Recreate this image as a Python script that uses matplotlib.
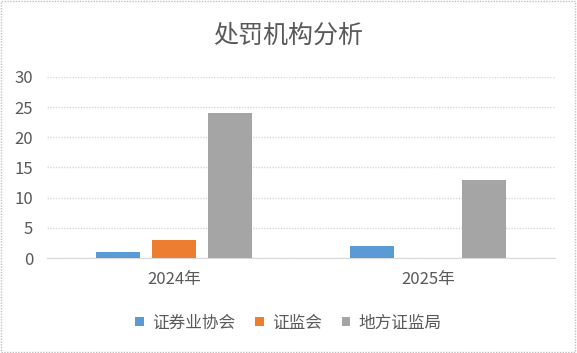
import numpy as np
import matplotlib.pyplot as plt
from matplotlib.patches import Rectangle

plt.rcParams['font.family'] = ['Noto Sans CJK SC', 'DejaVu Sans']

# data
years = ['2024年', '2025年']
series_names = ['证券业协会', '证监会', '地方证监局']
xiehui = [1, 2]
zjh = [3, 0]
difang = [24, 13]
colors = ['#5B9BD5', '#ED7D31', '#A5A5A5']

fig = plt.figure(figsize=(5.77, 3.53), dpi=100)
ax = fig.add_axes([0.0815, 0.269, 0.8805, 0.513])

x = np.arange(len(years))
w = 0.173
offs = [-0.22, 0, 0.22]
for vals, off, col, name in zip([xiehui, zjh, difang], offs, colors, series_names):
    ax.bar(x + off, vals, width=w, color=col, label=name, zorder=3)

ax.set_xlim(-0.5, 1.5)
ax.set_ylim(0, 30)
ax.set_yticks(range(0, 31, 5))
ax.set_xticks(x)
ax.set_xticklabels(years)
ax.tick_params(axis='both', length=0, colors='#595959', labelsize=12)
ax.tick_params(axis='y', pad=10)
ax.tick_params(axis='x', pad=9)
ax.grid(axis='y', color='#D9D9D9', linestyle=(0, (1, 1)), linewidth=1, zorder=0)
for s in ['top', 'right', 'left']:
    ax.spines[s].set_visible(False)
ax.spines['bottom'].set_color('#D9D9D9')

fig.text(0.5, 0.9, '处罚机构分析', ha='center', va='center', fontsize=18, color='#595959')

fig.legend(loc='center', bbox_to_anchor=(0.5, 0.085), ncol=3, frameon=False,
           fontsize=12, labelcolor='#595959', handlelength=0.5, handleheight=0.5,
           handletextpad=0.5, columnspacing=1.2)

fig.patches.append(Rectangle((0.002, 0.003), 0.995, 0.993, transform=fig.transFigure,
                             fill=False, edgecolor='#BFBFBF', linestyle=(0, (1, 1)), linewidth=1))

fig.savefig('out.png', dpi=100)
